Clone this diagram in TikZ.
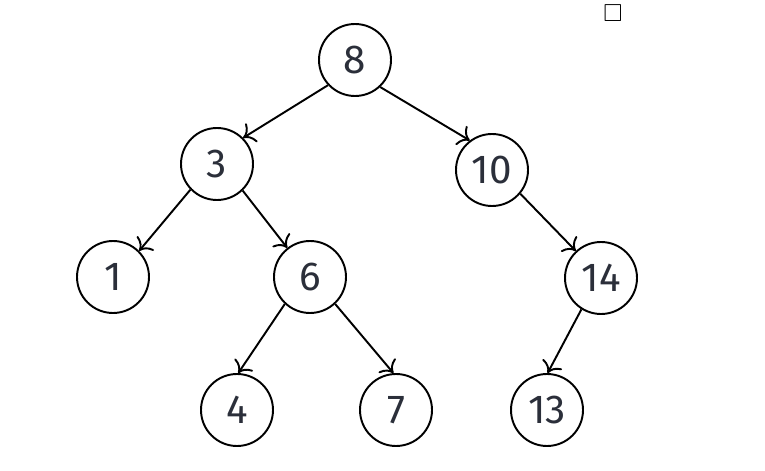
\documentclass[tikz,border=0pt]{standalone}
\usepackage{amssymb}
\usepackage{fontspec}
\setmainfont{Fira Sans}
\usepackage{tikz}
\usetikzlibrary{positioning,arrows.meta}

\definecolor{numgray}{HTML}{2B2F3A}

\begin{document}
\begin{tikzpicture}[->,>={To[scale=1.5]},line width=1.1pt,on grid,main node/.style={circle, draw, fill=white,
        inner sep=0pt, minimum size=1.44cm, line width=1.1pt, text=numgray,
        font=\fontsize{23}{27}\selectfont}
        ]
        \useasboundingbox (0,0) rectangle (15.3,-9.42);

        \node [main node] (n8) at (7.10,-1.20) {8} ;
        \node [main node] (n3) [below left = 2.08cm and 2.76cm of n8] {3} ;
        \node [main node] (n10) [below right = 2.20cm and 2.74cm of n8] {10} ;
        \node [main node] (n1) [below left = 2.26cm and 2.08cm of n3] {1} ;
        \node [main node] (n6) [below right = 2.26cm and 1.86cm of n3] {6} ;
        \node [main node] (n14) [below right = 2.16cm and 2.18cm of n10] {14} ;
        \node [main node] (n4) [below left = 2.66cm and 1.46cm of n6] {4} ;
        \node [main node] (n7) [below right = 2.66cm and 1.72cm of n6] {7} ;
        \node [main node] (n13) [below left = 2.64cm and 1.08cm of n14] {13} ;
        \node [inner sep=0pt] (qed) at (12.26,-0.26) {\fontsize{14}{16}\selectfont$\square$} ;

        \path
        (n8.-137) edge (n3.45)
        (n8.-47) edge (n10.127)
        (n3.-136) edge (n1.45)
        (n3.-46) edge (n6.128)
        (n10.-40) edge (n14.133)
        (n6.-133) edge (n4.88)
        (n6.-47) edge (n7.94)
        (n14.-122) edge (n13.89)
        ;
\end{tikzpicture}
\end{document}
